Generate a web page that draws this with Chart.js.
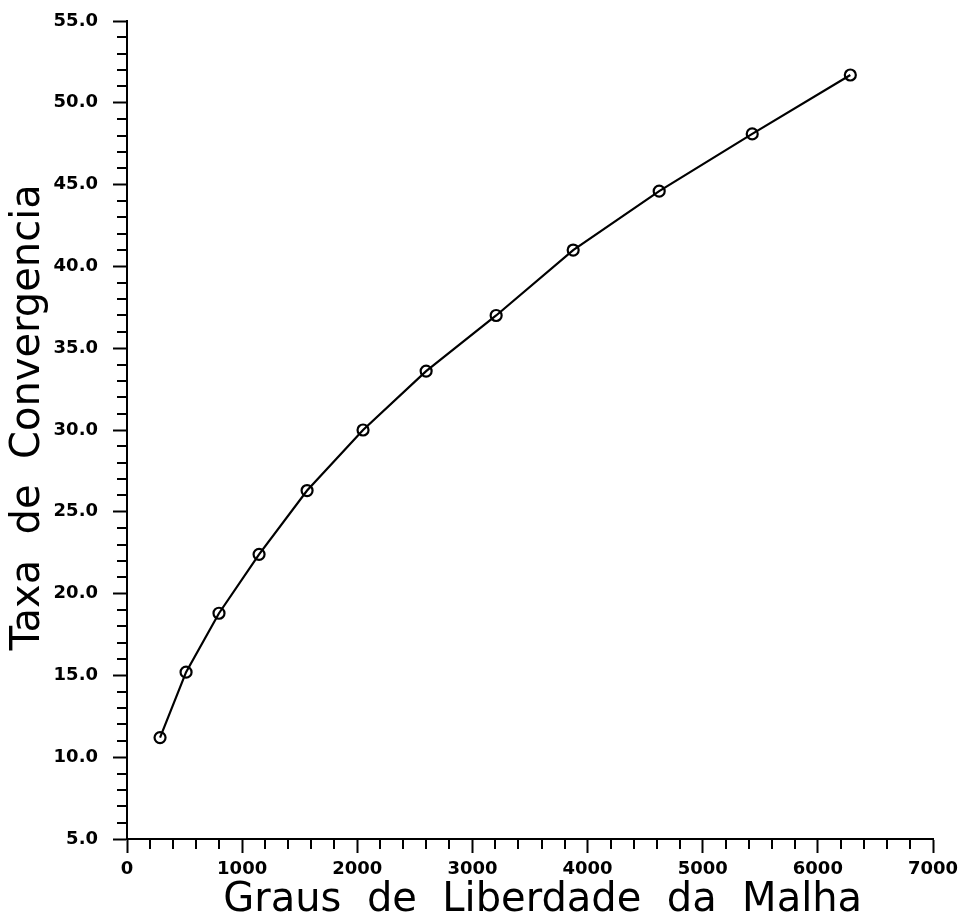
<!DOCTYPE html>
<html>
<head>
<meta charset="utf-8">
<script src="https://cdn.jsdelivr.net/npm/chart.js@4.4.1/dist/chart.umd.min.js"></script>
<style>
  html, body { margin: 0; padding: 0; background: #fff; }
  #chart { display: block; }
</style>
</head>
<body>
<canvas id="chart" width="959" height="919"></canvas>
<script>
// graus de liberdade (x) e taxa de convergencia (y)
var graus = [287, 513, 799, 1147, 1564, 2050, 2598, 3206, 3875, 4622, 5430, 6282];
var taxa = [11.2, 15.2, 18.8, 22.4, 26.3, 30.0, 33.6, 37.0, 41.0, 44.6, 48.1, 51.7];

var xTicks = [0, 1000, 2000, 3000, 4000, 5000, 6000, 7000];
var yTicks = [5, 10, 15, 20, 25, 30, 35, 40, 45, 50, 55];

var pontos = [];
for (var i = 0; i < graus.length; i++) {
	pontos.push({ x: graus[i], y: taxa[i] });
}

// small ticks between the labelled ones
var minorTicks = {
	id: "minorTicks",
	afterDraw: function(chart) {
		var ctx = chart.ctx;
		var xs = chart.scales.x, ys = chart.scales.y;
		var area = chart.chartArea;
		ctx.save();
		ctx.strokeStyle = "#000";
		ctx.lineWidth = 2;
		ctx.beginPath();
		for (var v = 6; v < 55; v++) {
			if (v % 5 === 0) continue;
			var py = Math.round(ys.getPixelForValue(v));
			ctx.moveTo(area.left - 10, py);
			ctx.lineTo(area.left, py);
		}
		for (var w = 200; w < 7000; w += 200) {
			if (w % 1000 === 0) continue;
			var px = Math.round(xs.getPixelForValue(w));
			ctx.moveTo(px, area.bottom);
			ctx.lineTo(px, area.bottom + 10);
		}
		ctx.stroke();
		ctx.restore();
	}
};

var tickFont = { family: "DejaVu Sans", size: 18, weight: "bold" };

var ctx = document.getElementById("chart");

var chart = new Chart(ctx, {
	type: "scatter",
	data: {
		datasets: [
			{
				label: "Taxa de Convergencia",
				data: pontos,
				showLine: true,
				borderColor: "#000",
				backgroundColor: "rgba(0,0,0,0)",
				borderWidth: 2.2,
				tension: 0,
				pointRadius: 5.5,
				pointBorderWidth: 2.2,
				pointBorderColor: "#000",
				pointBackgroundColor: "rgba(0,0,0,0)"
			}
		]
	},
	options: {
		responsive: false,
		animation: false,
		layout: {
			padding: { top: 21, right: 26, left: 0, bottom: 0 }
		},
		plugins: {
			legend: { display: false },
			tooltip: { enabled: false }
		},
		scales: {
			x: {
				type: "linear",
				min: 0,
				max: 7000,
				afterBuildTicks: function(scale) {
					scale.ticks = xTicks.map(function(v) { return { value: v }; });
				},
				afterFit: function(scale) {
					scale.height = 80;
					scale.paddingLeft = 0;
					scale.paddingRight = 0;
				},
				ticks: {
					color: "#000",
					font: tickFont,
					padding: 6,
					maxRotation: 0,
					callback: function(v) { return String(v); }
				},
				grid: {
					drawOnChartArea: false,
					drawTicks: true,
					tickLength: 14,
					tickWidth: 2,
					tickColor: "#000"
				},
				border: { display: true, color: "#000", width: 2 },
				title: {
					display: true,
					text: "  Graus  de  Liberdade  da  Malha",
					color: "#000",
					font: { family: "DejaVu Sans", size: 40, weight: "normal", lineHeight: 0.9 },
					padding: { top: 0, bottom: 0 }
				}
			},
			y: {
				type: "linear",
				min: 5,
				max: 55,
				afterBuildTicks: function(scale) {
					scale.ticks = yTicks.map(function(v) { return { value: v }; });
				},
				afterFit: function(scale) {
					scale.width = 127;
					scale.paddingTop = 0;
					scale.paddingBottom = 0;
				},
				ticks: {
					color: "#000",
					font: tickFont,
					padding: 15,
					callback: function(v) { return v.toFixed(1); }
				},
				grid: {
					drawOnChartArea: false,
					drawTicks: true,
					tickLength: 14,
					tickWidth: 2,
					tickColor: "#000"
				},
				border: { display: true, color: "#000", width: 2 },
				title: {
					display: true,
					text: "  Taxa  de  Convergencia",
					color: "#000",
					font: { family: "DejaVu Sans", size: 40, weight: "normal" },
					padding: { top: 5, bottom: 0 }
				}
			}
		}
	},
	plugins: [minorTicks]
});
</script>
</body>
</html>
